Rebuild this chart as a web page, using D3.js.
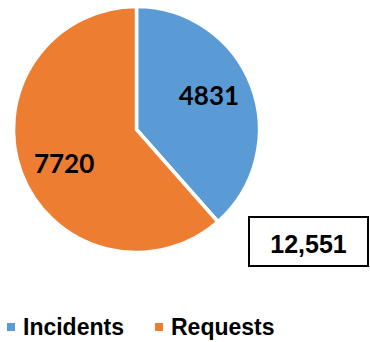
<!DOCTYPE html>
<html>
<head>
<meta charset="utf-8">
<script src="https://cdn.jsdelivr.net/npm/d3@7"></script>
<style>
  html, body { margin: 0; padding: 0; background: #fff; }
  svg { display: block; }
</style>
</head>
<body>
<svg id="chart" width="370" height="342"></svg>
<script>
const categories = ["Incidents", "Requests"];
const values = [4831, 7720];
const colors = ["#5B9BD5", "#ED7D31"];

const svg = d3.select("#chart");
const cx = 136.5, cy = 129.5, r = 123;

const pie = d3.pie().sort(null).value(d => d.value);
const data = categories.map((c, i) => ({ name: c, value: values[i], color: colors[i] }));
const arcs = pie(data);

const arc = d3.arc().innerRadius(0).outerRadius(r);
const labelR = r * 0.65;
const labelShift = -4.3 * Math.PI / 180;

const g = svg.append("g").attr("transform", `translate(${cx},${cy})`);
g.selectAll("path.slice")
  .data(arcs)
  .join("path")
  .attr("class", "slice")
  .attr("d", arc)
  .attr("fill", d => d.data.color)
  .attr("stroke", "#fff")
  .attr("stroke-width", 3.5)
  .attr("stroke-linejoin", "miter");

g.selectAll("text.lbl")
  .data(arcs)
  .join("text")
  .attr("class", "lbl")
  .attr("transform", d => {
    const a = (d.startAngle + d.endAngle) / 2 + labelShift;
    const x = labelR * Math.sin(a), y = -labelR * Math.cos(a);
    return `translate(${x},${y})`;
  })
  .attr("text-anchor", "middle")
  .attr("dy", "0.36em")
  .attr("font-family", "Lato, 'Open Sans', sans-serif")
  .attr("font-weight", "bold")
  .attr("font-size", 26)
  .attr("fill", "#000")
  .text(d => d.data.value);

// total box
const total = d3.sum(values);
const box = svg.append("g");
box.append("rect")
  .attr("x", 249).attr("y", 217)
  .attr("width", 119).attr("height", 49)
  .attr("fill", "#fff")
  .attr("stroke", "#000")
  .attr("stroke-width", 2);
box.append("text")
  .attr("x", 308.5).attr("y", 253)
  .attr("text-anchor", "middle")
  .attr("font-family", "'Liberation Sans', Arial, sans-serif")
  .attr("font-weight", "bold")
  .attr("font-size", 25)
  .attr("fill", "#000")
  .text(d3.format(",")(total));

// legend
const legendX = d3.scaleOrdinal().domain(categories).range([7, 155]);
const legend = svg.append("g");
const items = legend.selectAll("g.item")
  .data(data)
  .join("g")
  .attr("class", "item")
  .attr("transform", d => `translate(${legendX(d.name)},0)`);
items.append("rect")
  .attr("x", 0).attr("y", 323)
  .attr("width", 8).attr("height", 8)
  .attr("fill", d => d.color);
items.append("text")
  .attr("x", 16).attr("y", 335)
  .attr("font-family", "'Liberation Sans', Arial, sans-serif")
  .attr("font-weight", "bold")
  .attr("font-size", 23)
  .attr("fill", "#000")
  .text(d => d.name);
</script>
</body>
</html>
